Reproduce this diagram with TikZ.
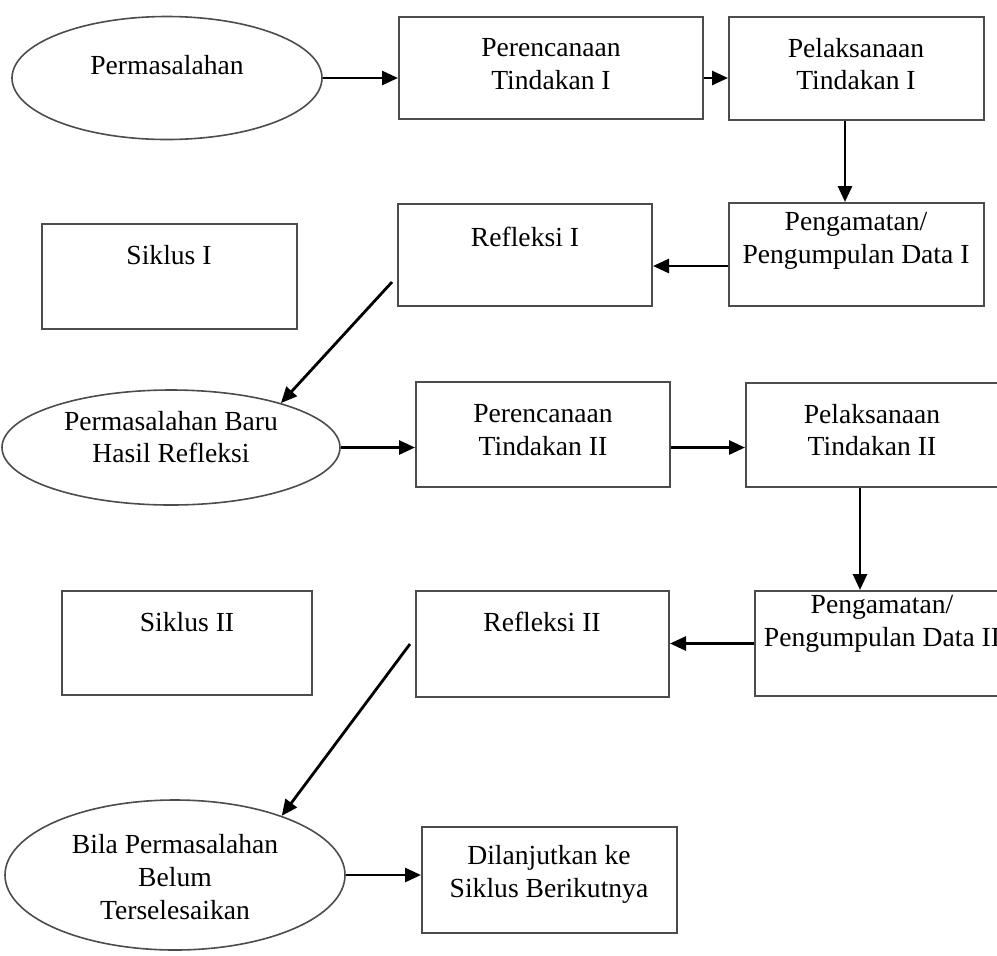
\documentclass[tikz,border=0pt]{standalone}
\usepackage{fontspec}
\setmainfont{Liberation Serif}
\usepackage{tikz}
\usetikzlibrary{arrows.meta, positioning, shapes.geometric}

\begin{document}
\begin{tikzpicture}[x=0.5pt, y=-0.5pt]
    % Define styles
    \tikzstyle{box} = [rectangle, draw=black!70, line width=1pt, inner sep=0pt]
    \tikzstyle{oval} = [ellipse, draw=black!70, line width=0.8pt, inner sep=0pt]
    \tikzstyle{txt} = [inner sep=0pt, align=center, font=\fontsize{13.8}{16.4}\selectfont]
    \tikzstyle{arr} = [draw, line width=1.4pt, -{Triangle[length=8pt, width=7pt]}]

    \useasboundingbox (0,0) rectangle (997,955);
    \clip (0,0) rectangle (997,955);

    % Siklus I
    \node[oval, minimum width=155pt, minimum height=61.5pt] (perm) at (167,78) {};
    \node[txt] (permT) at (167,65) {Permasalahan};

    \node[box, minimum width=152pt, minimum height=51pt] (ren1) at (551,68) {};
    \node[txt] (ren1T) at (551,64) {Perencanaan\\Tindakan I};

    \node[box, minimum width=127.5pt, minimum height=51.5pt] (pel1) at (856.5,68.5) {};
    \node[txt] (pel1T) at (856,64) {Pelaksanaan\\Tindakan I};

    \node[box, minimum width=127.5pt, minimum height=51.5pt] (amat1) at (856.5,254.5) {};
    \node[txt] (amat1T) at (856,241) {Pengamatan/\\Pengumpulan Data I};

    \node[box, minimum width=127pt, minimum height=51pt] (ref1) at (525,255) {};
    \node[txt] (ref1T) at (525,237) {Refleksi I};

    \node[box, minimum width=127.5pt, minimum height=52.5pt] (sik1) at (169.5,276.5) {};
    \node[txt] (sik1T) at (169,255) {Siklus I};

    % Siklus II
    \node[oval, minimum width=169pt, minimum height=57.5pt] (baru) at (171,447.5) {};
    \node[txt] (baruT) at (171,437) {Permasalahan Baru\\Hasil Refleksi};

    \node[box, minimum width=127pt, minimum height=52.5pt] (ren2) at (543,434.5) {};
    \node[txt] (ren2T) at (543,430) {Perencanaan\\Tindakan II};

    \node[box, minimum width=127.5pt, minimum height=52pt] (pel2) at (873.5,435) {};
    \node[txt] (pel2T) at (872,430) {Pelaksanaan\\Tindakan II};

    \node[box, minimum width=127.5pt, minimum height=52.5pt] (amat2) at (882.5,643.5) {};
    \node[txt] (amat2T) at (882,624) {Pengamatan/\\Pengumpulan Data II};

    \node[box, minimum width=126.5pt, minimum height=53pt] (ref2) at (542.5,644) {};
    \node[txt] (ref2T) at (542,622) {Refleksi II};

    \node[box, minimum width=125pt, minimum height=52pt] (sik2) at (187,643) {};
    \node[txt] (sik2T) at (187,622) {Siklus II};

    % Lanjutan
    \node[oval, minimum width=170pt, minimum height=75pt] (bila) at (175,875) {};
    \node[txt] (bilaT) at (175,877) {Bila Permasalahan\\Belum\\Terselesaikan};

    \node[box, minimum width=127.5pt, minimum height=53pt] (lanjut) at (549.5,880) {};
    \node[txt] (lanjutT) at (549,874) {Dilanjutkan ke\\Siklus Berikutnya};

    % Connections of cycle I
    \draw[arr] (perm.east) -- (perm.east -| ren1.west);
    \draw[arr] (ren1.east |- perm.east) -- (pel1.west |- perm.east);
    \draw[arr] ([xshift=-5.75pt]pel1.south) -- ([xshift=-5.75pt]pel1.south |- amat1.north);
    \draw[arr] ([yshift=-5.75pt]amat1.west) -- ([yshift=-5.75pt]amat1.west -| ref1.east);
    \draw[arr] ([xshift=-2.5pt,yshift=-13.5pt]ref1.west) -- (baru.22);

    % Connections of cycle II
    \draw[arr] (baru.east) -- (baru.east -| ren2.west);
    \draw[arr] (ren2.east |- baru.east) -- (pel2.west |- baru.east);
    \draw[arr] ([xshift=-6.75pt]pel2.south) -- ([xshift=-6.75pt]pel2.south |- amat2.north);
    \draw[arr] (amat2.west) -- (amat2.west -| ref2.east);
    \draw[arr] ([xshift=-2.5pt]ref2.west) -- (bila.29);

    \draw[arr] (bila.east) -- (bila.east -| lanjut.west);

\end{tikzpicture}
\end{document}
